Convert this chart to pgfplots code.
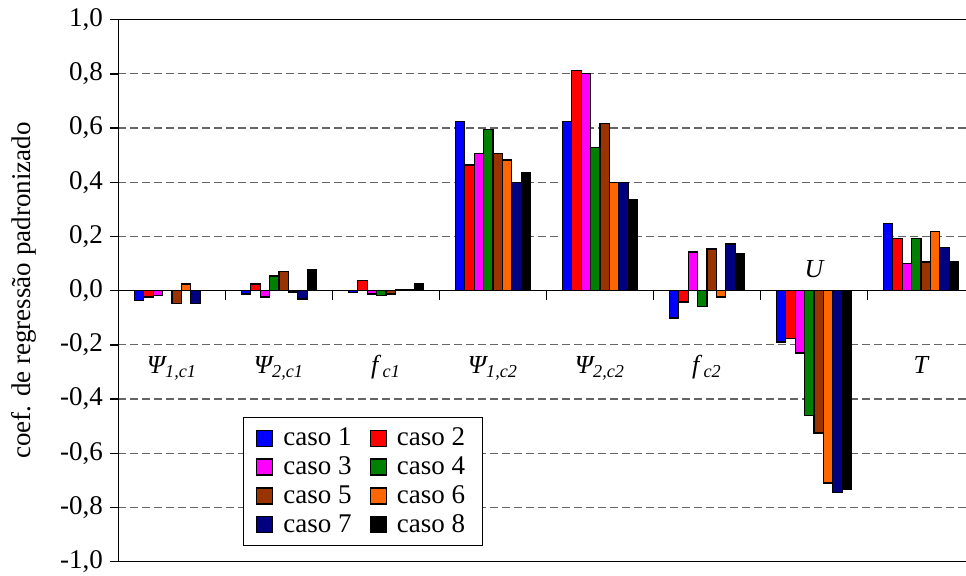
\documentclass[border=0pt]{standalone}
\usepackage{fontspec}
\setmainfont{Liberation Serif}
\usepackage{pgfplots}
\usepackage{pgfplotstable}
\pgfplotsset{compat=1.18}
\definecolor{k1}{RGB}{0,0,255}
\definecolor{k2}{RGB}{255,0,0}
\definecolor{k3}{RGB}{255,0,255}
\definecolor{k4}{RGB}{0,128,0}
\definecolor{k5}{RGB}{153,51,0}
\definecolor{k6}{RGB}{255,102,0}
\definecolor{k7}{RGB}{0,0,128}
\definecolor{k8}{RGB}{0,0,0}
\definecolor{gridgray}{RGB}{100,100,100}

\pgfplotstableread{
x  c1     c2     c3     c4     c5     c6     c7     c8
0 -0.036 -0.023 -0.017  0.001 -0.047  0.025 -0.047  0.001
1 -0.012  0.025 -0.023  0.054  0.071 -0.005 -0.031  0.077
2 -0.006  0.037 -0.012 -0.018 -0.012  0.004  0.005  0.025
3  0.624  0.464  0.506  0.594  0.506  0.482  0.400  0.435
4  0.624  0.812  0.800  0.529  0.618  0.400  0.400  0.336
5 -0.101 -0.042  0.143 -0.059  0.154 -0.023  0.172  0.137
6 -0.189 -0.177 -0.230 -0.460 -0.525 -0.710 -0.744 -0.734
7  0.248  0.194  0.100  0.194  0.106  0.219  0.160  0.108
}\data

\begin{document}
\begin{tikzpicture}
\useasboundingbox (-59.25pt,-7.15pt) rectangle (423.75pt,280.85pt);
\begin{axis}[
  at={(0,0)}, anchor=south west,
  scale only axis, width=423.75pt, height=271pt,
  xmin=-0.5, xmax=7.421, ymin=-1, ymax=1,
  axis x line*=box, axis y line*=left,
  axis line style={line width=0.75pt, black},
  xtick=\empty,
  ytick={-0.8,-0.6,-0.4,-0.2,0.2,0.4,0.6,0.8},
  yticklabels={{-0,8},{-0,6},{-0,4},{-0,2},{0,2},{0,4},{0,6},{0,8}},
  extra y ticks={-1,0,1},
  extra y tick labels={{-1,0},{0,0},{1,0}},
  extra y tick style={major grid style={solid, black, line width=0.75pt}},
  ymajorgrids,
  major grid style={gridgray, line width=0.6pt, dash pattern=on 3.6pt off 2.4pt},
  tick align=outside, major tick length=4.25pt,
  ytick style={black, line width=0.75pt},
  font=\fontsize{13.5}{16}\selectfont,
  ticklabel style={font=\fontsize{13.5}{16}\selectfont},
  ylabel={coef. de regressão padronizado},
  ylabel style={at={(rel axis cs:0,0.5)}, anchor=center, yshift=47.25pt, font=\fontsize{13.5}{16}\selectfont},
  ybar=0pt, bar width=4.7pt,
  every axis plot/.append style={draw=black, line width=0.6pt},
  legend columns=2,
  legend style={at={(axis cs:0.661,-0.467)}, anchor=north west, draw=black, line width=0.5pt, fill=white,
    font=\fontsize{13.5}{16}\selectfont, row sep=0pt, inner xsep=6.5pt, inner ysep=3pt,
    /tikz/every odd column/.append style={column sep=3pt},
    /tikz/every even column/.append style={column sep=7pt}},
  legend image code/.code={\draw[#1,draw=black,line width=0.6pt] (0pt,-4pt) rectangle (8pt,4pt);},
]
\addplot[fill=k1] table[x=x,y=c1]{\data}; \addlegendentry{caso 1}
\addplot[fill=k2] table[x=x,y=c2]{\data}; \addlegendentry{caso 2}
\addplot[fill=k3] table[x=x,y=c3]{\data}; \addlegendentry{caso 3}
\addplot[fill=k4] table[x=x,y=c4]{\data}; \addlegendentry{caso 4}
\addplot[fill=k5] table[x=x,y=c5]{\data}; \addlegendentry{caso 5}
\addplot[fill=k6] table[x=x,y=c6]{\data}; \addlegendentry{caso 6}
\addplot[fill=k7] table[x=x,y=c7]{\data}; \addlegendentry{caso 7}
\addplot[fill=k8] table[x=x,y=c8]{\data}; \addlegendentry{caso 8}
\pgfplotsinvokeforeach{0.5,1.5,2.5,3.5,4.5,5.5,6.5}{
  \draw[black, line width=0.75pt] (axis cs:#1,0) -- ([yshift=-4.5pt]axis cs:#1,0);
}
\begin{scope}[every node/.style={font=\fontsize{13}{15}\selectfont\itshape, anchor=base}]
\node at (axis cs:0,-0.307) {Ψ\textsubscript{1,c1}};
\node at (axis cs:1,-0.307) {Ψ\textsubscript{2,c1}};
\node at (axis cs:2,-0.307) {f\,\textsubscript{c1}};
\node at (axis cs:3,-0.307) {Ψ\textsubscript{1,c2}};
\node at (axis cs:4,-0.307) {Ψ\textsubscript{2,c2}};
\node at (axis cs:5,-0.307) {f\,\textsubscript{c2}};
\node at (axis cs:6,0.049) {U};
\node at (axis cs:7,-0.307) {T};
\end{scope}
\end{axis}
\end{tikzpicture}
\end{document}
